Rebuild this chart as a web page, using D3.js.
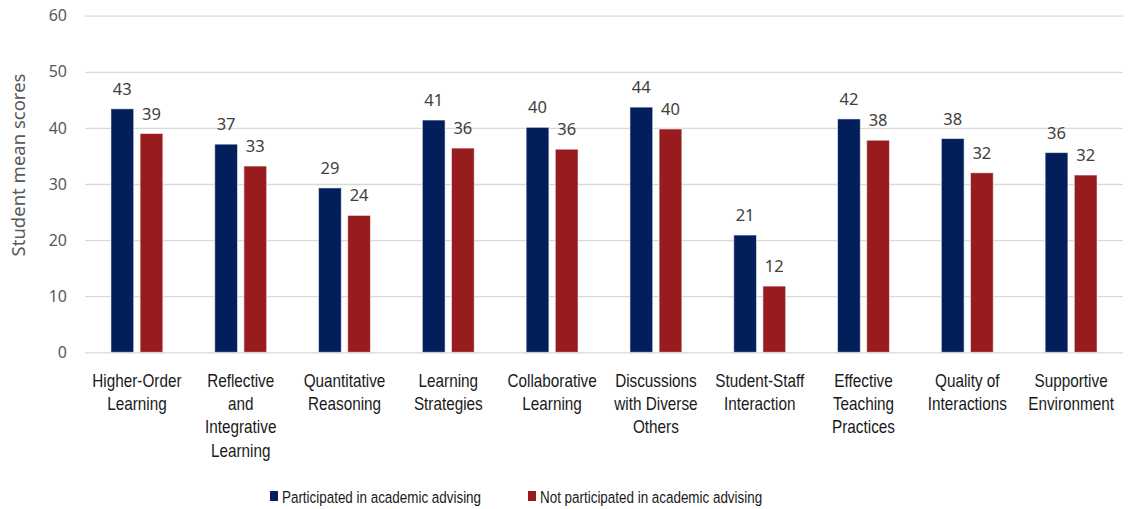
<!DOCTYPE html>
<html>
<head>
<meta charset="utf-8">
<script src="https://cdn.jsdelivr.net/npm/d3@7"></script>
<style>
  html, body { margin: 0; padding: 0; background: #fff; }
  svg { display: block; }
</style>
</head>
<body>
<svg id="chart" width="1135" height="509"></svg>
<script>
// Engagement indicators (category labels, with line breaks)
const categories = [
  "Higher-Order\nLearning",
  "Reflective\nand\nIntegrative\nLearning",
  "Quantitative\nReasoning",
  "Learning\nStrategies",
  "Collaborative\nLearning",
  "Discussions\nwith Diverse\nOthers",
  "Student-Staff\nInteraction",
  "Effective\nTeaching\nPractices",
  "Quality of\nInteractions",
  "Supportive\nEnvironment"
];

const seriesNames = [
  "Participated in academic advising",
  "Not participated in academic advising"
];

// Mean scores per indicator
const participated    = [43.4, 37.1, 29.3, 41.4, 40.1, 43.7, 20.9, 41.6, 38.1, 35.6];
const notParticipated = [39.0, 33.2, 24.4, 36.4, 36.2, 39.8, 11.8, 37.8, 32.0, 31.6];

const yTicks = [0, 10, 20, 30, 40, 50, 60];
const seriesColors = ["#021e5b", "#981b1e"];

const svg = d3.select("#chart");
const plot = { left: 85, right: 1123, top: 15.7, bottom: 352.3 };

const y = d3.scaleLinear().domain([0, 60]).range([plot.bottom, plot.top]);

const x0 = d3.scaleBand()
  .domain(categories)
  .range([plot.left, plot.right])
  .paddingInner(0.5)
  .paddingOuter(0.25);

const x1 = d3.scaleBand()
  .domain(seriesNames)
  .range([0, x0.bandwidth()])
  .paddingInner(0.22);

const color = d3.scaleOrdinal().domain(seriesNames).range(seriesColors);

// Gridlines and y tick labels
const yAxis = d3.axisLeft(y).tickValues(yTicks).tickSize(-(plot.right - plot.left)).tickPadding(18);
const gy = svg.append("g")
  .attr("transform", `translate(${plot.left},0)`)
  .call(yAxis);
gy.select(".domain").remove();
gy.selectAll(".tick line").attr("stroke", "#d9d9d9").attr("stroke-width", 1.3);
gy.selectAll(".tick text")
  .attr("fill", "#595959")
  .style("font-family", "'Noto Sans', 'Open Sans', sans-serif")
  .style("font-size", "16px");

// Y axis title
svg.append("text")
  .attr("transform", `translate(25,165) rotate(-90)`)
  .attr("text-anchor", "middle")
  .attr("fill", "#595959")
  .style("font-family", "'Noto Sans', 'Open Sans', sans-serif")
  .style("font-size", "18.5px")
  .text("Student mean scores");

// Bars
const rows = categories.map((c, i) => ({
  category: c,
  values: [
    { series: seriesNames[0], value: participated[i] },
    { series: seriesNames[1], value: notParticipated[i] }
  ]
}));

const groups = svg.append("g").selectAll("g")
  .data(rows)
  .join("g")
  .attr("transform", d => `translate(${x0(d.category)},0)`);

groups.selectAll("rect")
  .data(d => d.values)
  .join("rect")
  .attr("x", d => x1(d.series))
  .attr("y", d => y(d.value))
  .attr("width", x1.bandwidth())
  .attr("height", d => y(0) - y(d.value))
  .attr("fill", d => color(d.series))
  .attr("stroke", "rgba(255,255,255,0.55)")
  .attr("stroke-width", 1);

// Value labels
groups.selectAll("text.value")
  .data(d => d.values)
  .join("text")
  .attr("class", "value")
  .attr("x", d => x1(d.series) + x1.bandwidth() / 2)
  .attr("y", d => y(d.value) - 14)
  .attr("text-anchor", "middle")
  .attr("fill", "#404040")
  .style("font-family", "'Noto Sans', 'Open Sans', sans-serif")
  .style("font-size", "16.5px")
  .text(d => d3.format(".0f")(d.value));

// Category labels (condensed sans)
const catFont = "'Liberation Sans', Arial, sans-serif";
const catLabels = svg.append("g").selectAll("text")
  .data(categories)
  .join("text")
  .attr("transform", d => `translate(${x0(d) + x0.bandwidth() / 2},386.7) scale(0.85,1)`)
  .attr("text-anchor", "middle")
  .attr("fill", "#1a1a1a")
  .style("font-family", catFont)
  .style("font-size", "18px");
catLabels.selectAll("tspan")
  .data(d => d.split("\n"))
  .join("tspan")
  .attr("x", 0)
  .attr("dy", (d, i) => i === 0 ? 0 : 23.3)
  .text(d => d);

// Legend
const legendX = [270, 528];
const legend = svg.append("g").selectAll("g")
  .data(seriesNames)
  .join("g")
  .attr("transform", (d, i) => `translate(${legendX[i]},491)`);
legend.append("rect")
  .attr("width", 8)
  .attr("height", 10)
  .attr("fill", d => color(d));
legend.append("text")
  .attr("transform", "translate(12,11.5) scale(0.79,1)")
  .attr("fill", "#1a1a1a")
  .style("font-family", catFont)
  .style("font-size", "17px")
  .text(d => d);
</script>
</body>
</html>
